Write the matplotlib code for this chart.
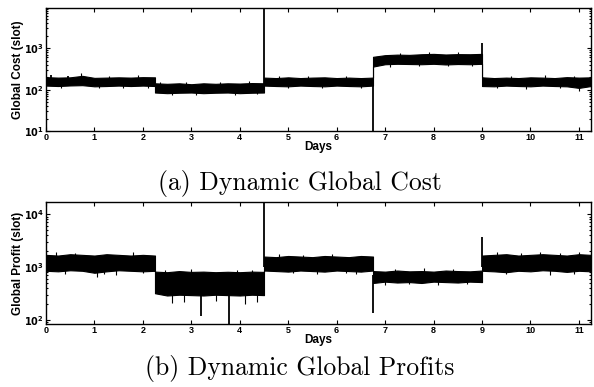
import matplotlib
matplotlib.use("Agg")
import matplotlib.pyplot as plt
from matplotlib.ticker import LogLocator, NullFormatter

plt.rcParams['mathtext.default'] = 'bf'

# envelope of the noisy band (upper / lower edge)
env_days = [0, 0.25, 0.5, 0.75, 1.0, 1.25, 1.5, 1.75, 2.0, 2.25,
            2.25, 2.5, 2.75, 3.0, 3.25, 3.5, 3.75, 4.0, 4.25, 4.5,
            4.5, 4.75, 5.0, 5.25, 5.5, 5.75, 6.0, 6.25, 6.5, 6.75,
            6.75, 7.0, 7.25, 7.5, 7.75, 8.0, 8.25, 8.5, 8.75, 9.0,
            9.0, 9.25, 9.5, 9.75, 10.0, 10.25, 10.5, 10.75, 11.0, 11.25]

cost_hi = [200, 195, 198, 215, 192, 195, 198, 195, 200, 198,
           142, 138, 142, 135, 142, 138, 142, 140, 144, 142,
           195, 190, 198, 190, 195, 198, 190, 195, 190, 195,
           620, 680, 700, 690, 715, 730, 705, 720, 715, 730,
           198, 190, 195, 190, 198, 195, 190, 200, 195, 198]
cost_lo = [125, 122, 126, 128, 120, 122, 125, 122, 125, 122,
           85, 82, 84, 85, 82, 84, 85, 82, 84, 85,
           125, 122, 120, 125, 122, 120, 125, 122, 120, 125,
           360, 410, 420, 415, 410, 420, 405, 415, 410, 420,
           122, 120, 125, 122, 120, 125, 122, 120, 110, 122]

profit_hi = [1700, 1650, 1750, 1700, 1650, 1750, 1700, 1650, 1700, 1650,
             820, 800, 840, 810, 820, 800, 815, 800, 820, 810,
             1580, 1540, 1620, 1580, 1540, 1620, 1580, 1540, 1620, 1580,
             840, 820, 860, 830, 840, 820, 860, 840, 830, 860,
             1650, 1700, 1750, 1650, 1700, 1750, 1700, 1650, 1750, 1700]
profit_lo = [850, 830, 870, 850, 780, 830, 870, 850, 830, 850,
             320, 290, 300, 295, 290, 300, 295, 290, 300, 295,
             860, 840, 820, 860, 840, 820, 860, 840, 820, 860,
             500, 530, 510, 520, 500, 530, 520, 510, 530, 520,
             850, 830, 800, 850, 830, 870, 850, 810, 850, 830]

# isolated spikes and whiskers: day, start value, end value
cost_spike_days = [4.5, 6.75, 9.0,
                   0.1, 0.45, 0.72, 1.3, 1.9, 0.3, 1.1, 1.6, 2.1,
                   2.35, 2.9, 3.6, 4.2, 2.6, 3.1, 3.9, 4.35,
                   4.8, 5.4, 6.2, 5.0, 5.7, 6.5,
                   7.3, 7.9, 8.5, 7.1, 7.7, 8.3, 8.8,
                   9.6, 10.3, 10.9, 9.3, 9.9, 10.6, 11.0]
cost_spike_base = [120, 150, 500,
                   160, 160, 160, 160, 160, 160, 160, 160, 160,
                   110, 110, 110, 110, 110, 110, 110, 110,
                   160, 160, 160, 160, 160, 160,
                   540, 540, 540, 540, 540, 540, 540,
                   160, 160, 160, 160, 160, 160, 160]
cost_spike_peak = [9300, 10, 1300,
                   222, 215, 245, 218, 225, 110, 108, 112, 111,
                   156, 152, 153, 158, 76, 74, 76, 77,
                   215, 212, 214, 108, 110, 109,
                   780, 790, 800, 360, 370, 365, 380,
                   215, 222, 214, 108, 106, 109, 95]

profit_spike_days = [4.5, 3.2, 3.78, 6.75, 9.0,
                     2.6, 2.85, 3.5, 4.1, 4.35, 2.45, 3.0, 3.95, 4.25,
                     1.05, 1.45, 0.2, 0.6, 1.8, 0.4, 1.2, 2.0,
                     4.8, 5.3, 5.9, 6.4, 5.1, 5.6, 6.2,
                     7.2, 7.8, 8.4, 7.0, 7.5, 8.1, 8.7,
                     9.3, 9.8, 10.2, 10.6, 11.0, 9.5, 10.4, 10.9]
profit_spike_base = [1000, 400, 400, 700, 1000,
                     400, 400, 400, 400, 400, 500, 500, 500, 500,
                     1100, 1100, 1100, 1100, 1100, 1100, 1100, 1100,
                     1100, 1100, 1100, 1100, 1100, 1100, 1100,
                     650, 650, 650, 650, 650, 650, 650,
                     1100, 1100, 1100, 1100, 1100, 1100, 1100, 1100]
profit_spike_peak = [17000, 120, 84, 134, 3700,
                     210, 220, 230, 200, 220, 880, 900, 870, 890,
                     650, 700, 1900, 1850, 1900, 740, 750, 760,
                     1750, 1700, 1730, 750, 760, 740, 770,
                     920, 940, 930, 460, 470, 465, 480,
                     1900, 1850, 1930, 1870, 1900, 740, 720, 750]

x_ticks = [0, 1, 2, 3, 4, 5, 6, 7, 8, 9, 10, 11]

fig = plt.figure(figsize=(5.94, 3.87), dpi=100)
ax1 = fig.add_axes([0.0774, 0.6615, 0.9176, 0.3175])
ax2 = fig.add_axes([0.0774, 0.1628, 0.9176, 0.3154])

panels = [
    (ax1, cost_hi, cost_lo, cost_spike_days, cost_spike_base, cost_spike_peak,
     (10, 9300), [10, 100, 1000], 'Global Cost (slot)', '(a) Dynamic Global Cost', 0.525),
    (ax2, profit_hi, profit_lo, profit_spike_days, profit_spike_base, profit_spike_peak,
     (84, 17000), [100, 1000, 10000], 'Global Profit (slot)', '(b) Dynamic Global Profits', 0.047),
]

for ax, hi, lo, sd, sb, sp, ylim, yt, ylab, cap, cap_y in panels:
    ax.fill_between(env_days, lo, hi, color='black', linewidth=0.8, edgecolor='black')
    ax.vlines(sd[:5], sb[:5], sp[:5], color='black', linewidth=1.3)
    ax.vlines(sd[5:], sb[5:], sp[5:], color='black', linewidth=0.8)
    ax.set_yscale('log')
    ax.set_xlim(0, 11.25)
    ax.set_ylim(*ylim)
    ax.set_xticks(x_ticks)
    ax.set_xticklabels([str(t) for t in x_ticks], fontsize=6.5, fontweight='bold',
                       family='Liberation Sans')
    ax.set_yticks(yt)
    ax.set_yticklabels(['$10^{%d}$' % len(str(v)[1:]) for v in yt], fontsize=7)
    ax.yaxis.set_minor_locator(LogLocator(base=10, subs=range(2, 10), numticks=20))
    ax.yaxis.set_minor_formatter(NullFormatter())
    ax.tick_params(which='both', direction='in', top=True, right=True, width=0.8)
    ax.tick_params(which='major', length=3, pad=1.5)
    ax.tick_params(which='minor', length=1.5)
    for s in ax.spines.values():
        s.set_linewidth(1.0)
    ax.set_xlabel('Days', fontsize=8.5, fontweight='bold', family='Liberation Sans',
                  labelpad=-1)
    ax.set_ylabel(ylab, fontsize=8.5, fontweight='bold', family='Liberation Sans',
                  labelpad=0)
    fig.text(0.505, cap_y, cap, ha='center', va='center', fontsize=18.5, family='cmr10')

fig.savefig('out.png', dpi=100)
